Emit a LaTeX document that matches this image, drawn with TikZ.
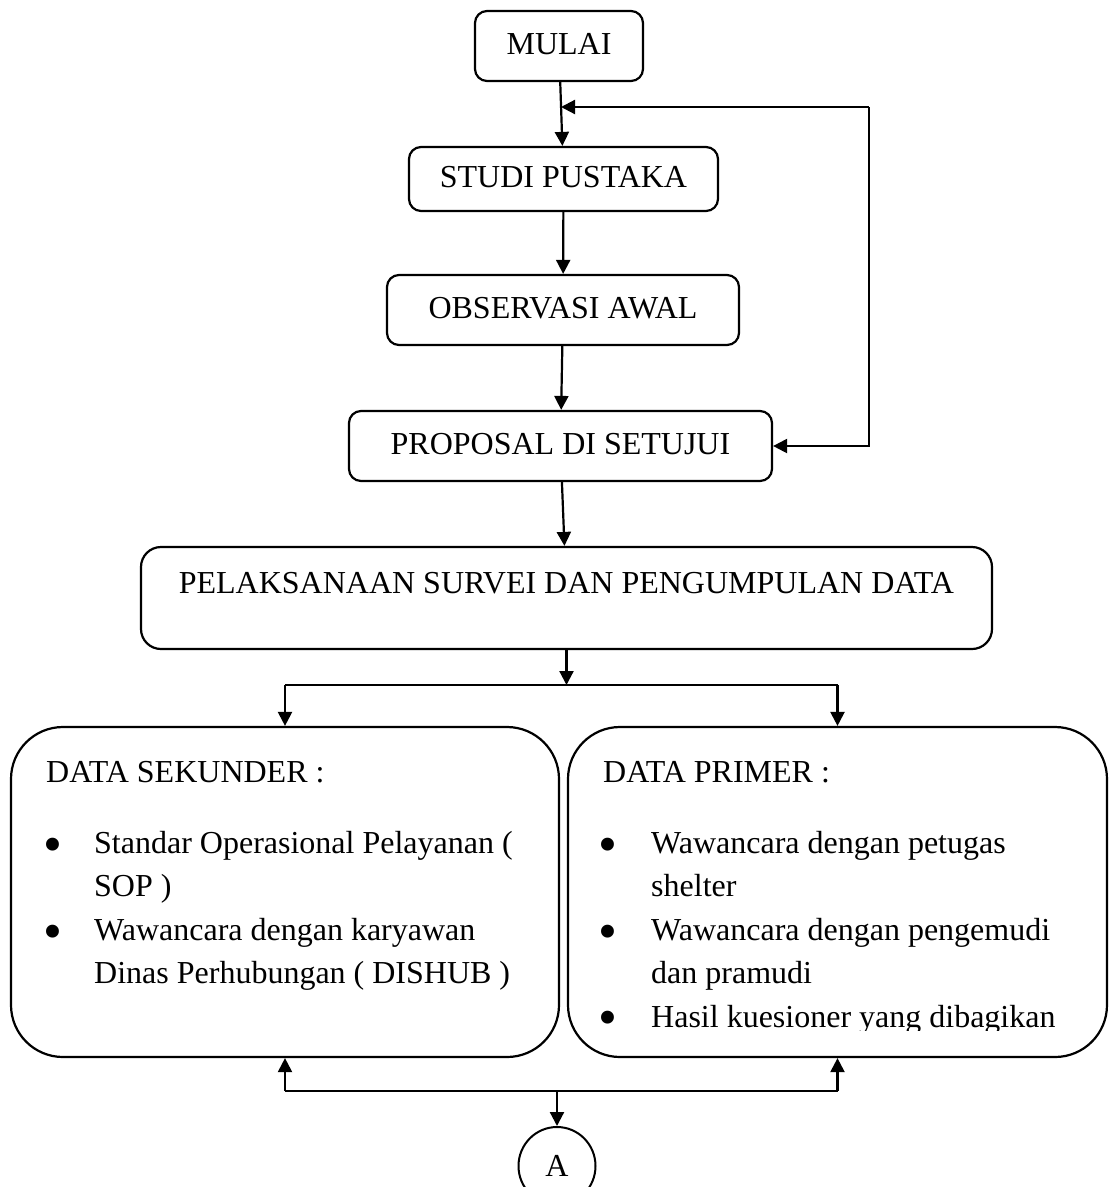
\documentclass[tikz,border=0pt]{standalone}
\usepackage{fontspec}
\setmainfont{Liberation Serif}
\usetikzlibrary{arrows.meta,shapes.geometric}
\begin{document}
\begin{tikzpicture}[x=1pt,y=-1pt,
  box/.style={draw,line width=2.2pt,rounded corners=12pt,inner sep=0pt,
    font=\fontsize{32}{40}\selectfont,text height=22pt,text depth=5pt},
  arr/.style={line width=2.2pt,-{Triangle[length=14pt,width=14pt]}},
  ln/.style={line width=2.2pt},
  txt/.style={font=\fontsize{32}{40}\selectfont,inner sep=0pt,anchor=base west},
  bul/.style={font=\fontsize{54}{54}\selectfont,inner sep=0pt,anchor=base}]
\useasboundingbox (0,0) rectangle (1109,1187);

% process boxes
\node[box,minimum width=168pt,minimum height=70pt] (mulai) at (559,46) {MULAI};
\node[box,minimum width=309pt,minimum height=64pt] (studi) at (563.5,179) {STUDI PUSTAKA};
\node[box,minimum width=352pt,minimum height=70pt] (obs) at (563,310) {OBSERVASI AWAL};
\node[box,minimum width=423pt,minimum height=70pt] (prop) at (560.5,446) {PROPOSAL DI SETUJUI};
\node[box,rounded corners=20pt,minimum width=851pt,minimum height=102pt,
  text height=22pt,text depth=32pt] (pelak) at (566.5,598)
  {PELAKSANAAN SURVEI DAN PENGUMPULAN DATA};
\node[box,rounded corners=52pt,minimum width=548pt,minimum height=330pt] (sek) at (285,892) {};
\node[box,rounded corners=52pt,minimum width=539pt,minimum height=330pt] (prim) at (837.5,892) {};
\node[draw,ellipse,line width=2pt,inner sep=0pt,minimum width=77pt,minimum height=78pt,
  font=\fontsize{32}{40}\selectfont] (a) at (557,1166) {A};

% texts of DATA SEKUNDER
\node[txt] (sekt) at (46,782) {DATA SEKUNDER :};
\node[bul] (sb1) at (53,862) {•};
\node[txt] (s1a) at (94,853) {Standar Operasional Pelayanan (};
\node[txt] (s1b) at (94,896) {SOP )};
\node[bul] (sb2) at (53,949) {•};
\node[txt] (s2a) at (94,940) {Wawancara dengan karyawan};
\node[txt] (s2b) at (94,983) {Dinas Perhubungan ( DISHUB )};

% texts of DATA PRIMER
\node[txt] (primt) at (603,782) {DATA PRIMER :};
\node[bul] (pb1) at (608,862) {•};
\node[txt] (p1a) at (651,853) {Wawancara dengan petugas};
\node[txt] (p1b) at (651,896) {shelter};
\node[bul] (pb2) at (608,949) {•};
\node[txt] (p2a) at (651,940) {Wawancara dengan pengemudi};
\node[txt] (p2b) at (651,983) {dan pramudi};
\begin{scope}
\clip (568,740) rectangle (1107,1030);
\node[bul] (pb3) at (608,1035) {•};
\node[txt] (p3a) at (651,1027) {Hasil kuesioner yang dibagikan};
\end{scope}

% connectors
\coordinate (fbtop) at (869,107);
\coordinate (fbtip) at (561,107);
\draw[arr] (mulai) -- (studi);
\draw[arr] (fbtop) -- (fbtip);
\draw[arr] (fbtop) |- (prop.east);
\draw[arr] (studi) -- (obs);
\draw[arr] (obs) -- (prop);
\draw[arr] (prop) -- (pelak);

\coordinate (jt) at (566.5,685);
\coordinate (jtl) at (285,685);
\coordinate (jtr) at (837.5,685);
\draw[arr] (pelak) -- (jt);
\draw[ln] (jtl) -- (jtr);
\draw[arr] (jtl) -- (sek);
\draw[arr] (jtr) -- (prim);

\coordinate (jb) at (557,1091);
\coordinate (jbl) at (285,1091);
\coordinate (jbr) at (837.5,1091);
\draw[ln] (jbl) -- (jbr);
\draw[arr] (jbl) -- (sek);
\draw[arr] (jbr) -- (prim);
\draw[arr] (jb) -- (a);
\end{tikzpicture}
\end{document}
